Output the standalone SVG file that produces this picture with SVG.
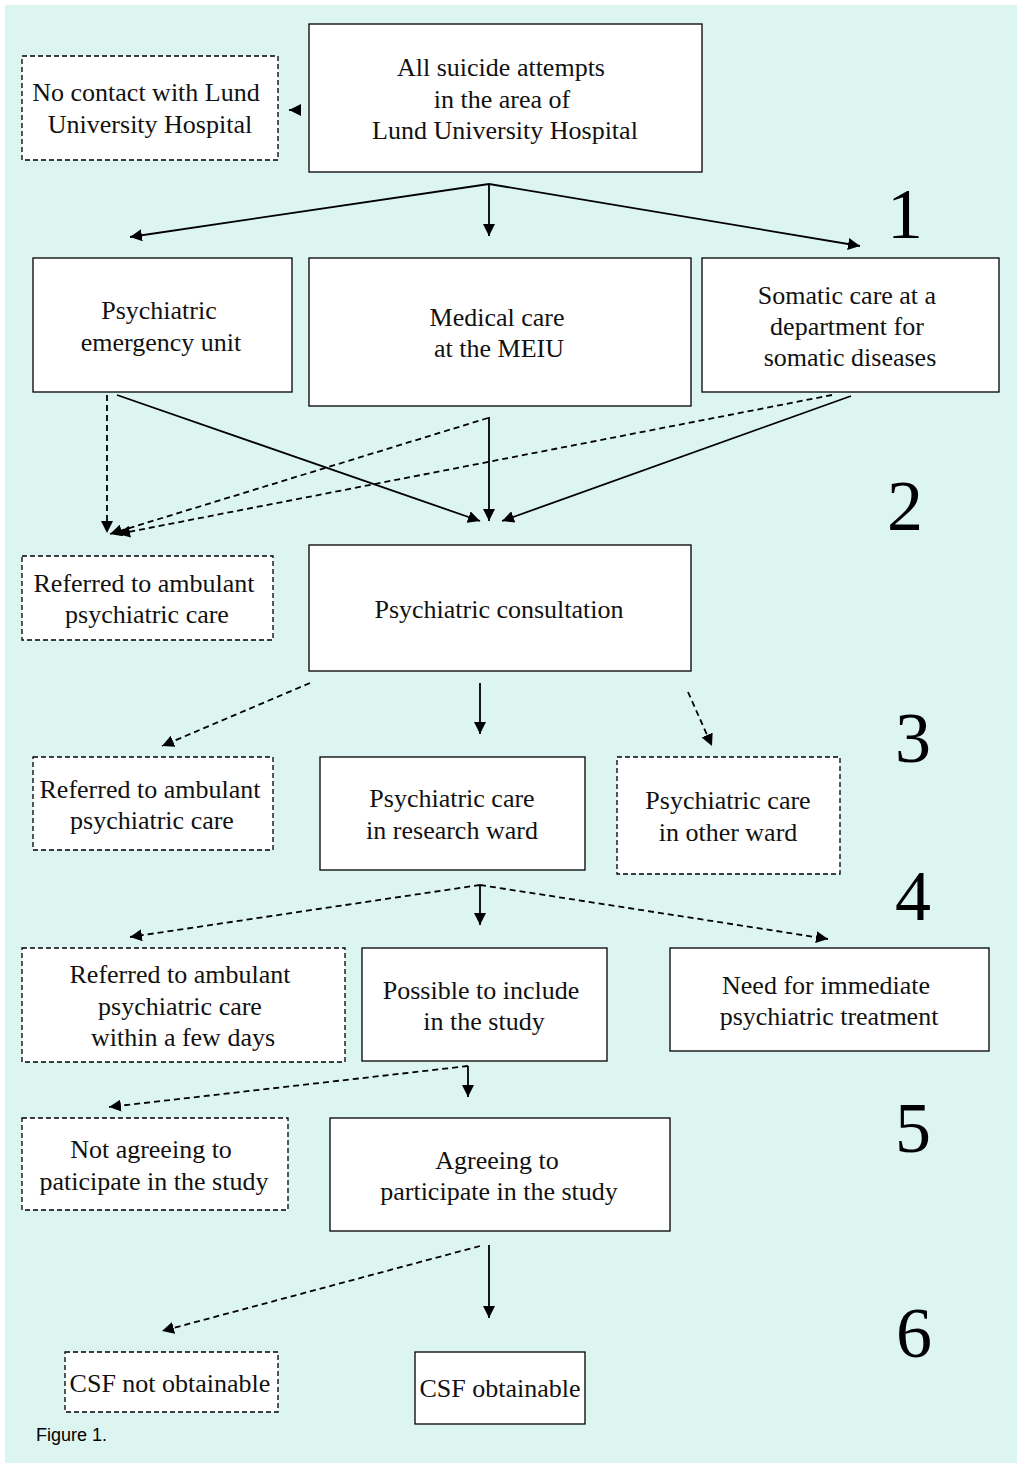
<svg xmlns="http://www.w3.org/2000/svg" width="1018" height="1463" viewBox="0 0 1018 1463">
<defs>
<marker id="ah" viewBox="0 0 10 10" refX="10" refY="5" markerWidth="12" markerHeight="12" markerUnits="userSpaceOnUse" orient="auto">
<path d="M0,0 L10,5 L0,10 z" fill="#000"/>
</marker>
<style>
.box{fill:#fff;stroke:#000;stroke-width:1.3}
.dbox{fill:#fff;stroke:#000;stroke-width:1.3;stroke-dasharray:5,3}
.t{font-family:"Liberation Serif","Times New Roman",serif;font-size:26px;fill:#111;text-anchor:middle}
.num{font-family:"Liberation Serif","Times New Roman",serif;font-size:72px;fill:#000;text-anchor:middle}
.s{stroke:#000;stroke-width:1.8;fill:none;marker-end:url(#ah)}
.d{stroke:#000;stroke-width:1.8;fill:none;stroke-dasharray:6,4;marker-end:url(#ah)}
</style>
</defs>
<rect x="0" y="0" width="1018" height="1463" fill="#fff"/>
<rect x="5" y="5" width="1012" height="1458" fill="#dcf5f0"/>

<g id="n-nocontact"><rect class="dbox" x="22" y="56" width="256" height="104"/><text class="t" x="146" y="101">No contact with Lund</text><text class="t" x="150" y="133">University Hospital</text></g>
<g id="n-all"><rect class="box" x="309" y="24" width="393" height="148"/><text class="t" x="501" y="76">All suicide attempts</text><text class="t" x="502" y="108">in the area of</text><text class="t" x="505" y="139">Lund University Hospital</text></g>
<g id="n-peu"><rect class="box" x="33" y="258" width="259" height="134"/><text class="t" x="159" y="319">Psychiatric</text><text class="t" x="161" y="351">emergency unit</text></g>
<g id="n-meiu"><rect class="box" x="309" y="258" width="382" height="148"/><text class="t" x="497" y="326">Medical care</text><text class="t" x="499" y="357">at the MEIU</text></g>
<g id="n-somatic"><rect class="box" x="702" y="258" width="297" height="134"/><text class="t" x="847" y="304">Somatic care at a</text><text class="t" x="847" y="335">department for</text><text class="t" x="850" y="366">somatic diseases</text></g>
<g id="n-ref1"><rect class="dbox" x="22" y="556" width="251" height="84"/><text class="t" x="144" y="592">Referred to ambulant</text><text class="t" x="147" y="623">psychiatric care</text></g>
<g id="n-consult"><rect class="box" x="309" y="545" width="382" height="126"/><text class="t" x="499" y="618">Psychiatric consultation</text></g>
<g id="n-ref2"><rect class="dbox" x="33" y="757" width="240" height="93"/><text class="t" x="150" y="798">Referred to ambulant</text><text class="t" x="152" y="829">psychiatric care</text></g>
<g id="n-research"><rect class="box" x="320" y="757" width="265" height="113"/><text class="t" x="452" y="807">Psychiatric care</text><text class="t" x="452" y="839">in research ward</text></g>
<g id="n-other"><rect class="dbox" x="617" y="757" width="223" height="117"/><text class="t" x="728" y="809">Psychiatric care</text><text class="t" x="728" y="841">in other ward</text></g>
<g id="n-ref3"><rect class="dbox" x="22" y="948" width="323" height="114"/><text class="t" x="180" y="983">Referred to ambulant</text><text class="t" x="180" y="1015">psychiatric care</text><text class="t" x="183" y="1046">within a few days</text></g>
<g id="n-possible"><rect class="box" x="362" y="948" width="245" height="113"/><text class="t" x="481" y="999">Possible to include</text><text class="t" x="484" y="1030">in the study</text></g>
<g id="n-immediate"><rect class="box" x="670" y="948" width="319" height="103"/><text class="t" x="826" y="994">Need for immediate</text><text class="t" x="829" y="1025">psychiatric treatment</text></g>
<g id="n-notagree"><rect class="dbox" x="22" y="1118" width="266" height="92"/><text class="t" x="151" y="1158">Not agreeing to</text><text class="t" x="154" y="1190">paticipate in the study</text></g>
<g id="n-agree"><rect class="box" x="330" y="1118" width="340" height="113"/><text class="t" x="497" y="1169">Agreeing to</text><text class="t" x="499" y="1200">participate in the study</text></g>
<g id="n-csfno"><rect class="dbox" x="65" y="1352" width="213" height="60"/><text class="t" x="170" y="1392">CSF not obtainable</text></g>
<g id="n-csf"><rect class="box" x="415" y="1352" width="170" height="72"/><text class="t" x="500" y="1397">CSF obtainable</text></g>

<g id="labels">
<text class="num" x="905" y="238">1</text>
<text class="num" x="905" y="530">2</text>
<text class="num" x="913" y="762">3</text>
<text class="num" x="913" y="920">4</text>
<text class="num" x="913" y="1152">5</text>
<text class="num" x="914" y="1357">6</text>
<text x="36" y="1441" font-family="Liberation Sans, Arial, sans-serif" font-size="18" fill="#000">Figure 1.</text>
</g>

<g id="connectors">
<line class="s" x1="300" y1="110" x2="289" y2="110"/>
<line class="s" x1="489" y1="184" x2="130" y2="237"/>
<line class="s" x1="489" y1="184" x2="489" y2="236"/>
<line class="s" x1="489" y1="184" x2="860" y2="246"/>
<line class="s" x1="117" y1="395" x2="480" y2="521"/>
<line class="s" x1="489" y1="417" x2="489" y2="521"/>
<line class="s" x1="851" y1="396" x2="502" y2="521"/>
<line class="d" x1="107" y1="395" x2="107" y2="533"/>
<line class="d" x1="488" y1="418" x2="110" y2="534"/>
<line class="d" x1="832" y1="395" x2="118" y2="534"/>
<line class="d" x1="310" y1="683" x2="162" y2="746"/>
<line class="s" x1="480" y1="683" x2="480" y2="734"/>
<line class="d" x1="688" y1="692" x2="712" y2="746"/>
<line class="s" x1="480" y1="885" x2="480" y2="925"/>
<line class="d" x1="480" y1="885" x2="130" y2="937"/>
<line class="d" x1="480" y1="885" x2="828" y2="939"/>
<path class="d" d="M468,1066 L109,1107" />
<line class="s" x1="468" y1="1066" x2="468" y2="1097"/>
<line class="s" x1="489" y1="1245" x2="489" y2="1318"/>
<line class="d" x1="480" y1="1246" x2="162" y2="1331"/>
</g>
</svg>
